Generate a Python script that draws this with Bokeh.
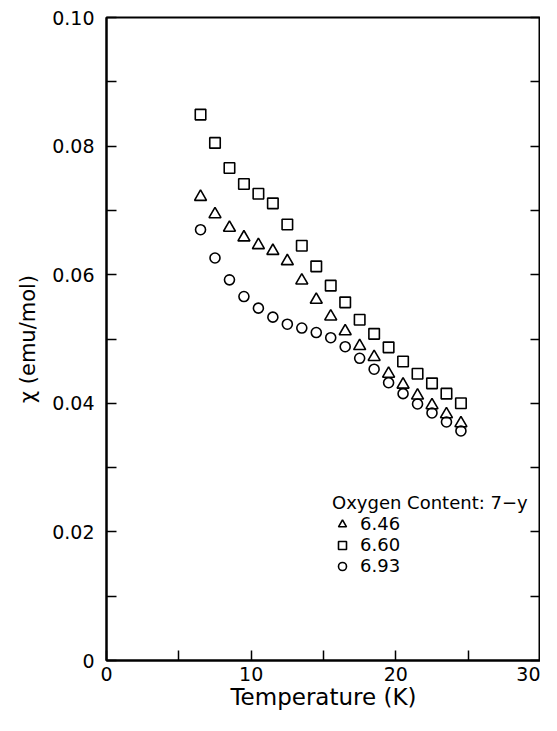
from bokeh.plotting import figure
from bokeh.models import FixedTicker, LinearAxis, Legend, LegendItem, Range1d
from bokeh.embed import file_html
from bokeh.resources import INLINE

# ---- data ----
temperature = [6.5, 7.5, 8.5, 9.5, 10.5, 11.5, 12.5, 13.5, 14.5, 15.5,
               16.5, 17.5, 18.5, 19.5, 20.5, 21.5, 22.5, 23.5, 24.5]
chi_646 = [0.0721, 0.0694, 0.0673, 0.0658, 0.0646, 0.0637, 0.0621, 0.0591, 0.0561, 0.0535,
           0.0512, 0.0489, 0.0472, 0.0446, 0.0429, 0.0412, 0.0397, 0.0383, 0.0369]
chi_660 = [0.0849, 0.0805, 0.0766, 0.0741, 0.0726, 0.0711, 0.0678, 0.0645, 0.0613, 0.0583,
           0.0557, 0.0530, 0.0508, 0.0487, 0.0465, 0.0446, 0.0431, 0.0415, 0.0400]
chi_693 = [0.0670, 0.0626, 0.0592, 0.0566, 0.0548, 0.0534, 0.0523, 0.0517, 0.0510, 0.0502,
           0.0488, 0.0470, 0.0453, 0.0432, 0.0415, 0.0399, 0.0385, 0.0371, 0.0357]
series_labels = ["6.46", "6.60", "6.93"]
legend_title = "Oxygen Content: 7\u2212y"

x_ticks = [0, 10, 20, 30]
x_minor = [5, 15, 25]
x_tick_labels = ["0", "10", "20", "30"]
y_ticks = [0, 0.02, 0.04, 0.06, 0.08, 0.10]
y_minor = [0.01, 0.03, 0.05, 0.07, 0.09]
y_tick_labels = ["0", "0.02", "0.04", "0.06", "0.08", "0.10"]
x_label = "Temperature (K)"
y_label = "\u03c7 (emu/mol)"

FONT = "DejaVu Sans"

p = figure(frame_width=434, frame_height=643,
           x_range=Range1d(0, 30), y_range=Range1d(0, 0.10),
           output_backend="svg", toolbar_location=None,
           min_border_left=106, min_border_right=0, min_border_top=17, min_border_bottom=55,
           background_fill_color="white", border_fill_color="white")
p.grid.visible = False
p.outline_line_color = "black"
p.outline_line_width = 2

def style_axis(ax, ticks, minor, labels, show_labels=True):
    ax.ticker = FixedTicker(ticks=ticks, minor_ticks=minor)
    ax.major_label_overrides = {t: l for t, l in zip(ticks, labels)}
    ax.axis_line_color = "black"
    ax.axis_line_width = 2
    ax.major_tick_in = 10
    ax.major_tick_out = 0
    ax.minor_tick_in = 10
    ax.minor_tick_out = 0
    ax.major_tick_line_width = 1.5
    ax.minor_tick_line_width = 1.5
    ax.major_tick_line_color = "black"
    ax.minor_tick_line_color = "black"
    ax.major_label_text_font = FONT
    ax.major_label_text_color = "black"
    ax.major_label_text_font_size = "19px" if show_labels else "0px"
    if not show_labels:
        ax.major_label_text_color = None
        ax.major_label_standoff = 0

style_axis(p.xaxis[0], x_ticks, x_minor, x_tick_labels)
p.xaxis[0].major_label_standoff = 6
p.xaxis[0].axis_label = x_label
p.xaxis[0].axis_label_text_font = FONT
p.xaxis[0].axis_label_text_font_size = "23px"
p.xaxis[0].axis_label_text_font_style = "normal"
p.xaxis[0].axis_label_text_color = "black"
p.xaxis[0].axis_label_standoff = 0

style_axis(p.yaxis[0], y_ticks, y_minor, y_tick_labels)
p.yaxis[0].major_label_standoff = 12
p.yaxis[0].axis_label = y_label
p.yaxis[0].axis_label_text_font = FONT
p.yaxis[0].axis_label_text_font_size = "21px"
p.yaxis[0].axis_label_text_font_style = "normal"
p.yaxis[0].axis_label_text_color = "black"
p.yaxis[0].axis_label_standoff = 9

right = LinearAxis()
style_axis(right, y_ticks, y_minor, y_tick_labels, show_labels=False)
right.axis_line_width = 3
p.add_layout(right, "right")

r_tri = p.scatter(temperature, chi_646, marker="triangle", size=12,
                  fill_color=None, line_color="black", line_width=1.6)
r_sq = p.scatter(temperature, chi_660, marker="square", size=10.5,
                 fill_color=None, line_color="black", line_width=1.6)
r_ci = p.scatter(temperature, chi_693, marker="circle", size=10,
                 fill_color=None, line_color="black", line_width=1.6)

legend = Legend(items=[LegendItem(label=series_labels[0], renderers=[r_tri]),
                       LegendItem(label=series_labels[1], renderers=[r_sq]),
                       LegendItem(label=series_labels[2], renderers=[r_ci])],
                location=(226, 84), title=legend_title,
                title_text_font=FONT, title_text_font_size="18px",
                title_text_font_style="normal", title_text_color="black",
                label_text_font=FONT, label_text_font_size="18px", label_text_color="black",
                glyph_width=20, glyph_height=20, label_height=20, label_standoff=8,
                spacing=0, padding=0, margin=0, title_standoff=0,
                border_line_color=None, background_fill_alpha=0)
p.add_layout(legend, "center")

open("out.html", "w").write(file_html(p, INLINE))
